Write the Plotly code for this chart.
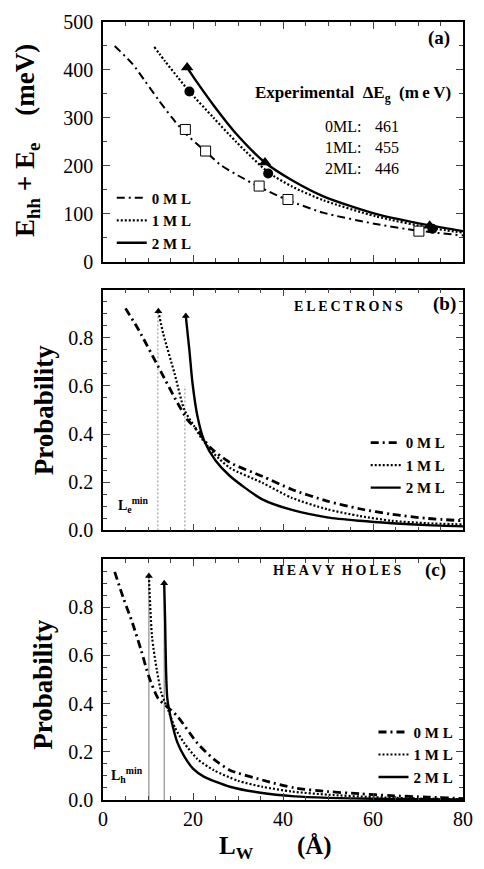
import plotly.graph_objects as go

# ---------------- data ----------------
# panel (a): E_hh + E_e (meV) vs L_W (Å)
La_0ML = [2.6, 6.6, 9.4, 12.3, 15.2, 18.3, 22.8, 26, 30, 35, 41, 49.1, 60.6, 70, 80]
Ea_0ML = [450, 412, 376, 338, 302, 268, 230, 203, 180, 155, 129, 102, 79, 65, 55]
La_1ML = [11.4, 13.8, 16.6, 19.2, 24.6, 29.6, 36.7, 42, 49.1, 60.6, 73.2, 80]
Ea_1ML = [448, 418, 385, 355, 300, 250, 187, 157, 128, 95, 70, 61]
La_2ML = [18.7, 21, 24.6, 29.6, 36, 42, 49.1, 60.6, 72.6, 80]
Ea_2ML = [405, 373, 326, 267, 207, 170, 136, 100, 76, 64]
sq_L = [18.3, 22.8, 34.7, 41.1, 70.2]
sq_E = [276, 231, 158, 130, 64]
ci_L = [19.2, 36.7, 73.2]
ci_E = [355, 184, 69]
tr_L = [18.7, 36.0, 72.6]
tr_E = [405, 207, 75]
exp_labels = ["0ML:", "1ML:", "2ML:"]
exp_gap = ["461", "455", "446"]

# panel (b): electrons probability
Lb_0ML = [5, 8, 12.3, 16.6, 18.8, 21, 23.8, 28.2, 35.4, 42, 49.8, 57, 64.2, 72, 80]
Pb_0ML = [0.922, 0.83, 0.679, 0.528, 0.459, 0.415, 0.345, 0.282, 0.225, 0.17, 0.122, 0.09, 0.067, 0.05, 0.04]
Lb_1ML = [12.3, 13.4, 15.9, 18.1, 20.3, 22, 24.6, 28.2, 35.4, 42, 49.8, 57, 64.2, 72, 80]
Pb_1ML = [0.91, 0.816, 0.652, 0.5, 0.432, 0.38, 0.32, 0.26, 0.198, 0.135, 0.088, 0.06, 0.04, 0.03, 0.025]
Lb_2ML = [18.4, 19.2, 19.9, 21, 22.4, 25, 28.2, 35.4, 42, 49.8, 57, 64.2, 72, 80]
Pb_2ML = [0.89, 0.748, 0.61, 0.473, 0.376, 0.29, 0.226, 0.129, 0.085, 0.054, 0.04, 0.03, 0.022, 0.017]
Le_min = [12.2, 18.2]

# panel (c): heavy holes probability
Lc_0ML = [2.6, 4.5, 6.6, 8.5, 10.2, 12.3, 13.8, 16.6, 21, 24.6, 28.2, 35.4, 42.6, 50, 57, 64, 72, 80]
Pc_0ML = [0.947, 0.84, 0.732, 0.62, 0.512, 0.42, 0.395, 0.346, 0.235, 0.17, 0.124, 0.083, 0.05, 0.035, 0.026, 0.018, 0.012, 0.006]
Lc_1ML = [10.2, 10.9, 11.96, 13, 14.5, 16, 18.1, 21, 24.6, 30, 35.4, 42, 50, 60, 70, 80]
Pc_1ML = [0.93, 0.678, 0.54, 0.443, 0.373, 0.3, 0.235, 0.17, 0.124, 0.08, 0.055, 0.035, 0.022, 0.012, 0.006, 0.003]
Lc_2ML = [13.6, 13.8, 14.0, 14.3, 15.2, 16.5, 18.1, 20, 22.4, 28.2, 35, 42.6, 50, 60, 70, 80]
Pc_2ML = [0.9, 0.75, 0.55, 0.42, 0.33, 0.24, 0.18, 0.13, 0.097, 0.055, 0.03, 0.015, 0.009, 0.005, 0.003, 0.002]
Lh_min = [10.2, 13.6]

series_names = ["0 M L", "1 M L", "2 M L"]
x_ticks = [0, 20, 40, 60, 80]

# ---------------- layout helpers ----------------
W, H = 484, 869
ML, MR, MT, MB = 103, 11, 15, 69
PW, PH = W - ML - MR, H - MT - MB
def px(x):
    return (x - ML) / PW
def py(y):
    return (H - MB - y) / PH

SERIF = "Liberation Serif"
DASHDOT = "8px,4px,2px,4px"
DOT = "2px,2px"

fig = go.Figure()

def line(x, y, dash, width, xa, ya, name=None, legend=None, color="black", shape="spline"):
    fig.add_trace(go.Scatter(
        x=x, y=y, mode="lines", xaxis=xa, yaxis=ya,
        line=dict(color=color, width=width, dash=dash, shape=shape, smoothing=0.7),
        name=name if name else "", showlegend=legend is not None,
        legend=legend if legend else "legend", hoverinfo="skip"))

# panel (a)
line(La_0ML, Ea_0ML, DASHDOT, 2, "x", "y", series_names[0], "legend")
line(La_1ML, Ea_1ML, DOT, 2.2, "x", "y", series_names[1], "legend")
line(La_2ML, Ea_2ML, "solid", 2.4, "x", "y", series_names[2], "legend")
fig.add_trace(go.Scatter(x=sq_L, y=sq_E, mode="markers", xaxis="x", yaxis="y", showlegend=False,
                         marker=dict(symbol="square", size=10, color="white",
                                     line=dict(width=1, color="black"))))
fig.add_trace(go.Scatter(x=ci_L, y=ci_E, mode="markers", xaxis="x", yaxis="y", showlegend=False,
                         marker=dict(symbol="circle", size=10, color="black")))
fig.add_trace(go.Scatter(x=tr_L, y=tr_E, mode="markers", xaxis="x", yaxis="y", showlegend=False,
                         marker=dict(symbol="triangle-up", size=11, color="black")))

# panel (b)
for L, P in zip(Le_min, [Pb_1ML[0], 0.6]):
    line([L, L], [0, P], "2px,2px", 1, "x2", "y2", color="#888888", shape="linear")
line(Lb_0ML, Pb_0ML, DASHDOT, 2.8, "x2", "y2", series_names[0], "legend2")
line(Lb_1ML, Pb_1ML, DOT, 2.2, "x2", "y2", series_names[1], "legend2")
line(Lb_2ML, Pb_2ML, "solid", 2.4, "x2", "y2", series_names[2], "legend2")
fig.add_trace(go.Scatter(x=[Lb_1ML[0], Lb_2ML[0]], y=[Pb_1ML[0], Pb_2ML[0]], mode="markers",
                         xaxis="x2", yaxis="y2", showlegend=False,
                         marker=dict(symbol="triangle-up", size=7, color="black")))

# panel (c)
for L, P in zip(Lh_min, [Pc_1ML[0], Pc_2ML[0]]):
    line([L, L], [0, P], "solid", 1, "x3", "y3", color="#777777", shape="linear")
line(Lc_0ML, Pc_0ML, DASHDOT, 2.8, "x3", "y3", series_names[0], "legend3")
line(Lc_1ML, Pc_1ML, DOT, 2.2, "x3", "y3", series_names[1], "legend3")
line(Lc_2ML, Pc_2ML, "solid", 2.4, "x3", "y3", series_names[2], "legend3")
fig.add_trace(go.Scatter(x=[Lc_1ML[0], Lc_2ML[0]], y=[Pc_1ML[0], Pc_2ML[0]], mode="markers",
                         xaxis="x3", yaxis="y3", showlegend=False,
                         marker=dict(symbol="triangle-up", size=7, color="black")))

# ---------------- axes ----------------
tickfont = dict(family=SERIF, size=20, color="black")
def xax(anchor, labels):
    return dict(domain=[0, 1], anchor=anchor, range=[0, 80], tickvals=x_ticks,
                showticklabels=labels, ticks="inside", ticklen=7, tickwidth=1.3,
                mirror="allticks", showline=True, linewidth=1.6, linecolor="black",
                showgrid=False, zeroline=False, tickfont=tickfont,
                minor=dict(dtick=5, ticklen=4, tickwidth=1.2, ticks="inside"))
def yax(anchor, dom, rng, vals, fmt):
    return dict(domain=dom, anchor=anchor, range=rng, tickvals=vals, tickformat=fmt,
                ticks="inside", ticklen=7, tickwidth=1.3, mirror="allticks",
                showline=True, linewidth=1.6, linecolor="black", showgrid=False,
                zeroline=False, tickfont=tickfont, ticklabelstandoff=4,
                minor=dict(dtick=(rng[1] - rng[0]) / 10 if fmt == "d" else 0.05,
                           ticklen=4, tickwidth=1.2, ticks="inside"))

fig.update_layout(
    width=W, height=H, margin=dict(l=ML, r=MR, t=MT, b=MB),
    paper_bgcolor="white", plot_bgcolor="white",
    font=dict(family=SERIF, color="black"),
    xaxis=xax("y", False), xaxis2=xax("y2", False), xaxis3=xax("y3", True),
    yaxis=yax("x", [py(257), 1], [0, 500], [0, 100, 200, 300, 400, 500], "d"),
    yaxis2=yax("x2", [py(528), py(285)], [0, 1.0], [0, 0.2, 0.4, 0.6, 0.8], ".1f"),
    yaxis3=yax("x3", [0, py(557)], [0, 1.0], [0, 0.2, 0.4, 0.6, 0.8], ".1f"),
)
legfont = dict(family=SERIF, size=15, color="black", weight="bold")
legcommon = dict(font=legfont, bgcolor="rgba(0,0,0,0)", borderwidth=0, xanchor="left",
                 yanchor="top", tracegroupgap=0, itemwidth=30, traceorder="normal")
fig.update_layout(
    legend=dict(x=px(112), y=py(176), **legcommon),
    legend2=dict(x=px(373), y=py(423), **legcommon),
    legend3=dict(x=px(381), y=py(715), **legcommon),
)

# ---------------- annotations ----------------
ann = []
def text(x, y, s, size, bold=False, xanchor="center", angle=0):
    ann.append(dict(x=px(x), y=py(y), xref="paper", yref="paper", text=s, showarrow=False,
                    xanchor=xanchor, yanchor="middle", textangle=angle,
                    font=dict(family=SERIF, size=size, color="black",
                              weight="bold" if bold else "normal")))

T = "\u2009"
text(448, 31, "(a)", 19, True)
text(454, 300, "(b)", 19, True)
text(445, 568, "(c)", 19, True)
text(463, 88, "Experimental" + "  ΔE<sub>g</sub>  (" + T.join("meV") + ")", 17, True, xanchor="right")
for i, (lab, val) in enumerate(zip(exp_labels, exp_gap)):
    text(329, 120 + 21.5 * i, lab, 16, xanchor="left")
    text(381, 120 + 21.5 * i, val, 16, xanchor="left")
text(355, 302, T.join("ELECTRONS"), 14, True)
text(343, 568, T.join("HEAVY") + "\u2002" + T.join("HOLES"), 14, True)
text(134, 502, "L<sub>e</sub><sup>min</sup>", 14, True)
text(128, 775, "L<sub>h</sub><sup>min</sup>", 14, True)
text(25, 135, "E<sub>hh</sub> + E<sub>e</sub>    (meV)", 27, True, angle=-90)
text(42, 406, "Probability", 27, True, angle=-90)
text(41, 683, "Probability", 27, True, angle=-90)
text(280, 848, "L<sub>W</sub>       (Å)", 25, True)
fig.update_layout(annotations=ann)

fig.write_html("out.html")
